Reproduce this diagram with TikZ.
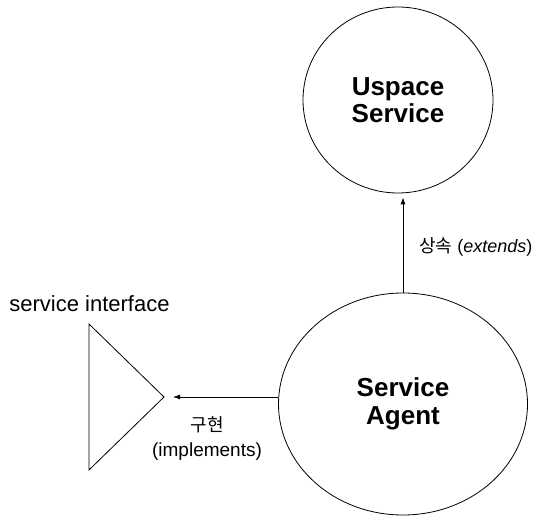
\documentclass[tikz,border=0pt]{standalone}
\usepackage{fontspec}
\setmainfont{Liberation Sans}
\newfontfamily\krfont{Noto Sans CJK KR}
\usetikzlibrary{shapes.geometric,arrows.meta}

\begin{document}
\begin{tikzpicture}[x=1pt,y=-1pt,
    bigcircle/.style={draw,line width=0.8pt,ellipse,inner sep=0pt,align=center,
      font=\fontsize{26}{27.5}\selectfont\bfseries},
    rel/.style={line width=0.8pt,-{Latex[length=7pt,width=5pt]}},
    lbl/.style={inner sep=0pt,font=\fontsize{18}{20}\selectfont}]
  \useasboundingbox (0,0) rectangle (535,518);

  % Marking Uspace Service by circle
  \node[bigcircle,minimum width=190pt,minimum height=186pt] (uspace) at (398,100) {Uspace\\Service};

  % Marking Service Agent by circle
  \node[bigcircle,minimum width=249pt,minimum height=222pt] (agent) at (403,404) {Service\\Agent};

  % Drawing triangle of the interface
  \draw [line width=0.8pt] (89,324) -- (89,470) -- (164,397) -- cycle;
  \coordinate (tip) at (164,397);
  \node[inner sep=0pt,font=\fontsize{22}{24}\selectfont] (ifacelbl) at (89.5,304) {service interface};

  % Drawing arrow agent -> uspace
  \draw [rel,shorten >=4pt] (agent.north) -- (agent.north |- uspace.south);
  \node[lbl,anchor=west] (extlbl) at (419,247) {{\krfont 상속} (\textit{extends})};

  % Drawing arrow agent -> interface
  \draw [rel,shorten >=9pt] (agent.west |- tip) -- (tip);
  \node[lbl] (implkr) at (207,425) {\krfont 구현};
  \node[lbl,font=\fontsize{19}{21}\selectfont] (impllbl) at (207,452) {(implements)};
\end{tikzpicture}
\end{document}
